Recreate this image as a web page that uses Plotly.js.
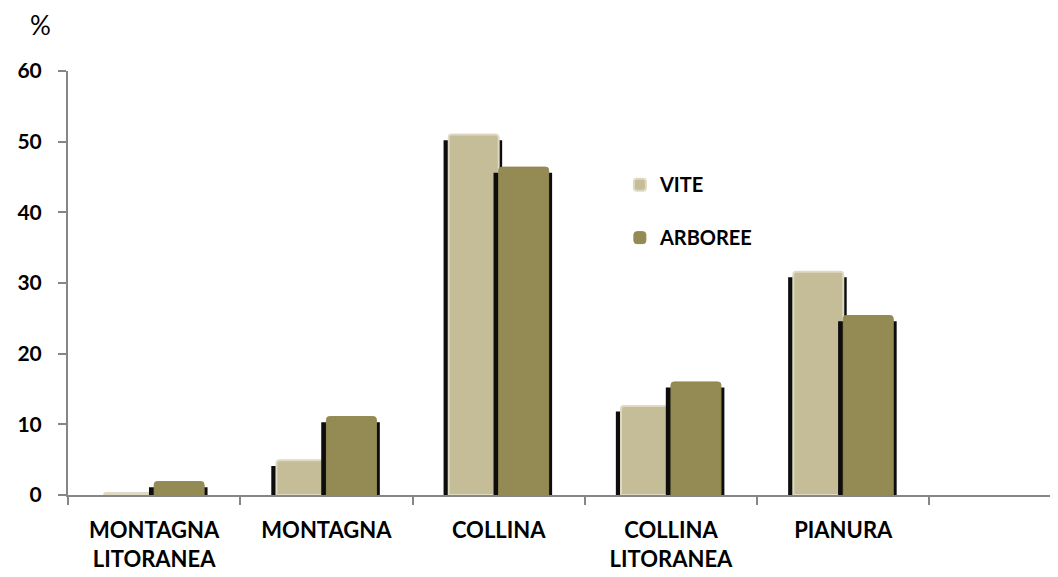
<!DOCTYPE html>
<html>
<head>
<meta charset="utf-8">
<script src="https://cdn.plot.ly/plotly-3.0.1.min.js"></script>
<style>html,body{margin:0;padding:0;background:#fff;}#chart{width:1058px;height:577px;}</style>
</head>
<body>
<div id="chart"></div>
<script>
const categories = ["MONTAGNA<br>LITORANEA", "MONTAGNA", "COLLINA", "COLLINA<br>LITORANEA", "PIANURA"];
const vite = [0.3, 4.9, 51.0, 12.6, 31.6];
const arboree = [1.9, 11.1, 46.4, 16.0, 25.4];
const seriesNames = ["VITE", "ARBOREE"];
const yTicks = [0, 10, 20, 30, 40, 50, 60];

const FONT = "Lato, 'Open Sans', sans-serif";
const VITE_COL = "#c4bd97";
const ARB_COL = "#948a54";
const BW = 0.29;
const SH = 0.8;

const traces = [
  {type: "bar", x: categories, y: vite, base: -SH, offset: -BW - 0.03, width: BW + 0.05,
   marker: {color: "#0d0d0d", line: {width: 0}}, showlegend: false, hoverinfo: "skip"},
  {type: "bar", name: seriesNames[0], x: categories, y: vite, offset: -BW, width: BW,
   marker: {color: VITE_COL, line: {color: "#ddd9c3", width: 2}, cornerradius: 3}, legendgroup: "a"},
  {type: "bar", x: categories, y: arboree, base: -SH, offset: -0.03, width: BW + 0.05,
   marker: {color: "#0d0d0d", line: {width: 0}}, showlegend: false, hoverinfo: "skip"},
  {type: "bar", name: seriesNames[1], x: categories, y: arboree, offset: 0, width: BW,
   marker: {color: ARB_COL, line: {color: "#948a54", width: 1}, cornerradius: 3}, legendgroup: "b"}
];

const layout = {
  width: 1058, height: 577,
  margin: {l: 68, r: 8, t: 71, b: 82},
  paper_bgcolor: "#fff", plot_bgcolor: "#fff",
  barmode: "overlay",
  showlegend: true,
  legend: {x: 0.562, y: 0.778, xanchor: "left", yanchor: "top", traceorder: "grouped",
           tracegroupgap: 24, font: {family: FONT, size: 20, color: "#000", weight: "bold"},
           bgcolor: "rgba(0,0,0,0)"},
  xaxis: {type: "category", range: [-0.5, 5.2], tickson: "boundaries", ticks: "outside",
          ticklen: 8, tickwidth: 2, tickcolor: "#868686", showline: true, linecolor: "#868686",
          linewidth: 2, showgrid: false, zeroline: false, ticklabelstandoff: 15,
          tickfont: {family: FONT, size: 22, color: "#000", weight: "bold"}},
  yaxis: {range: [0, 60], tickvals: yTicks, ticks: "outside", ticklen: 8, tickwidth: 2,
          tickcolor: "#868686", showline: true, linecolor: "#868686", linewidth: 2,
          showgrid: false, zeroline: false, ticklabelstandoff: 12,
          tickfont: {family: FONT, size: 21, color: "#000", weight: "bold"}},
  annotations: [{text: "%", xref: "paper", yref: "paper", x: -0.0275, y: 1.1085,
                 xanchor: "center", yanchor: "middle", showarrow: false,
                 font: {family: FONT, size: 26, color: "#000"}}]
};

Plotly.newPlot("chart", traces, layout, {displayModeBar: false});
</script>
</body>
</html>
